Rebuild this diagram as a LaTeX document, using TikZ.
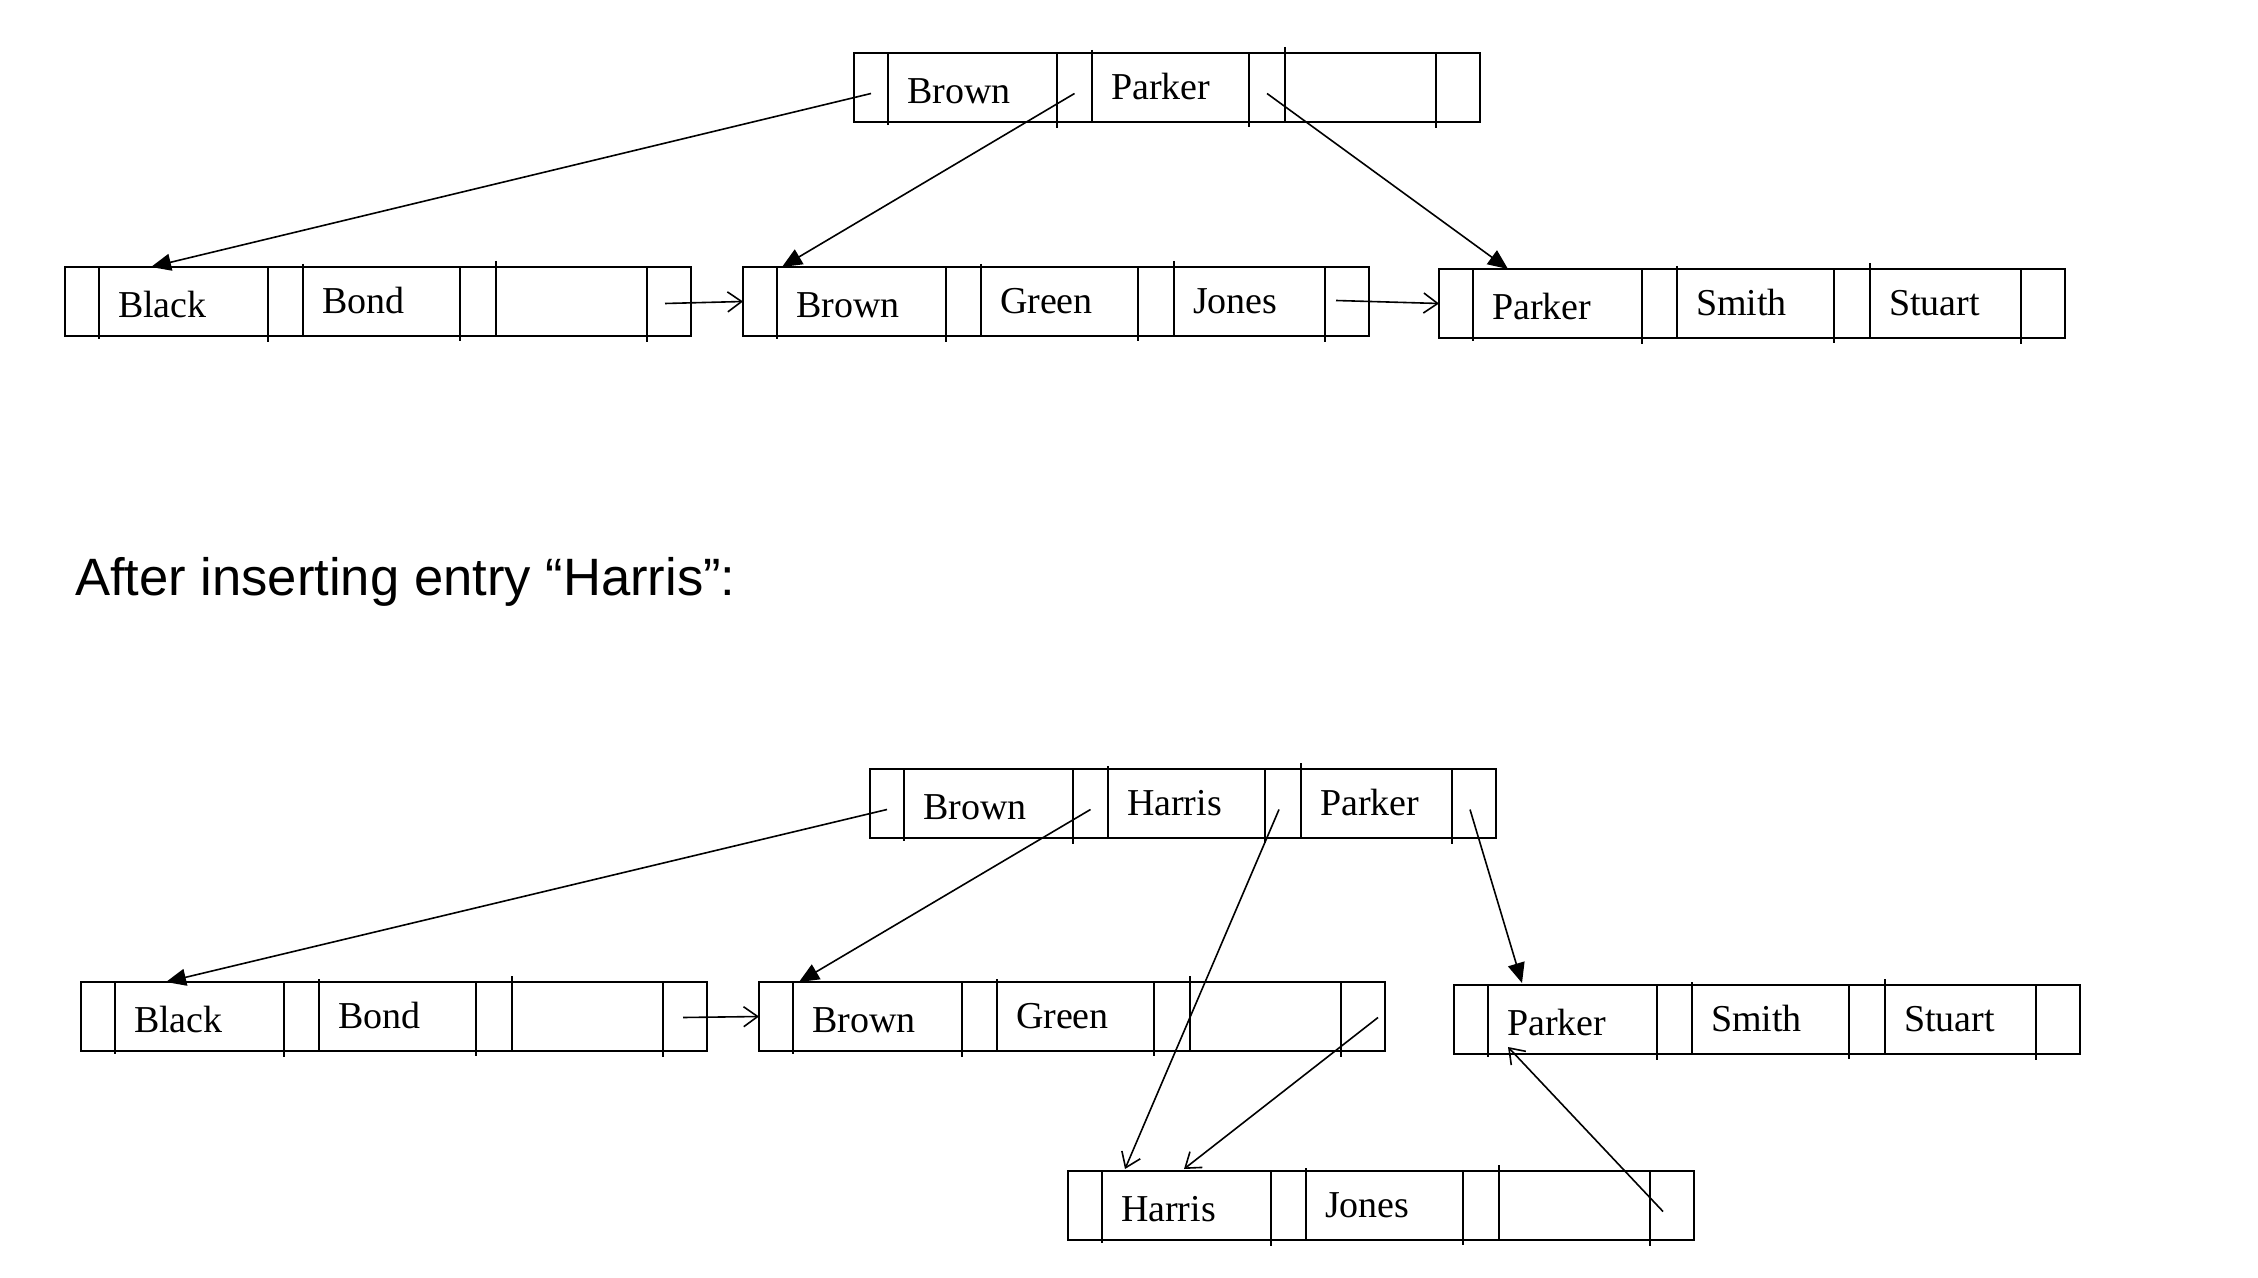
\documentclass[tikz,border=0pt]{standalone}
\usepackage{fontspec}
\setmainfont{Liberation Serif}
\newfontfamily\hvfont{Liberation Sans}
\usetikzlibrary{calc,arrows.meta}
\tikzset{
  blk/.style={draw, line width=1.1pt, minimum width=313pt, minimum height=34.5pt, inner sep=0pt, outer sep=0pt},
  divline/.style={line width=1.1pt},
  keytxt/.style={inner sep=0pt, outer sep=0pt, font=\fontsize{19}{22}\selectfont, anchor=base west},
  titletxt/.style={inner sep=0pt, outer sep=0pt, font=\hvfont\fontsize{26.3}{30}\selectfont, anchor=west},
  tree/.style={line width=0.8pt, -{Triangle[length=10pt,width=8.5pt]}},
  link/.style={line width=0.8pt, -{Straight Barb[length=7pt,width=10pt]}},
}
% name, x, y (top-left, px), key1, key2, key3
\newcommand\bblock[6]{%
  \node[blk, anchor=north west] (#1) at (#2,#3) {};
  \foreach \dx/\up/\dn in {34/0/3, 203/0/6, 238/3/0, 395/0/5, 431/6/0, 582/0/6}
    \draw[divline] ($(#1.north west)+(\dx,-\up)$) -- ($(#1.south west)+(\dx,\dn)$);
  \node[keytxt] (#1-k1) at ($(#1.west)+(53,16)$) {#4};
  \node[keytxt] (#1-k2) at ($(#1.west)+(257,12)$) {#5};
  \node[keytxt] (#1-k3) at ($(#1.west)+(450,12)$) {#6};
  \coordinate (#1-p0) at ($(#1.west)+(17,6)$);
  \coordinate (#1-p1) at ($(#1.west)+(220.5,6)$);
  \coordinate (#1-p2) at ($(#1.west)+(413,6)$);
  \coordinate (#1-p3) at ($(#1.west)+(604,6)$);
}
\begin{document}
\begin{tikzpicture}[x=0.5pt,y=-0.5pt]
\useasboundingbox[fill=white] (0,0) rectangle (2258,1278);
% before insertion
\bblock{r}{854}{53}{Brown}{Parker}{}
\bblock{a}{65}{267}{Black}{Bond}{}
\bblock{b}{743}{267}{Brown}{Green}{Jones}
\bblock{c}{1439}{269}{Parker}{Smith}{Stuart}
\draw[tree] (r-p0) -- ($(a.north west)+(86,0)$);
\draw[tree] (r-p1) -- ($(b.north west)+(39,0)$);
\draw[tree] (r-p2) -- ($(c.north west)+(69,0)$);
\draw[link] ($(a-p3)+(-4,-4)$) -- (b.west);
\draw[link] ($(b-p3)+(-11,-7)$) -- (c.west);
% title
\node[titletxt] (ttl) at (75,582) {After inserting entry “Harris”:};
% after insertion
\bblock{R}{870}{769}{Brown}{Harris}{Parker}
\bblock{A}{81}{982}{Black}{Bond}{}
\bblock{B}{759}{982}{Brown}{Green}{}
\bblock{C}{1454}{985}{Parker}{Smith}{Stuart}
\bblock{D}{1068}{1171}{Harris}{Jones}{}
\draw[tree] (R-p0) -- ($(A.north west)+(85,0)$);
\draw[tree] (R-p1) -- ($(B.north west)+(40,0)$);
\draw[link] ($(R-p2)+(-4,0)$) -- ($(D.north west)+(57,-2)$);
\draw[tree] ($(R-p3)+(-4,0)$) -- ($(C.north west)+(68,-2)$);
\draw[link] ($(A-p3)+(-2,-5)$) -- (B.west);
\draw[link] ($(B-p3)+(15,-5)$) -- ($(D.north west)+(116,-2)$);
\draw[link] ($(D-p3)+(-9,0)$) -- ($(C.south west)+(54,-7)$);
\end{tikzpicture}
\end{document}
